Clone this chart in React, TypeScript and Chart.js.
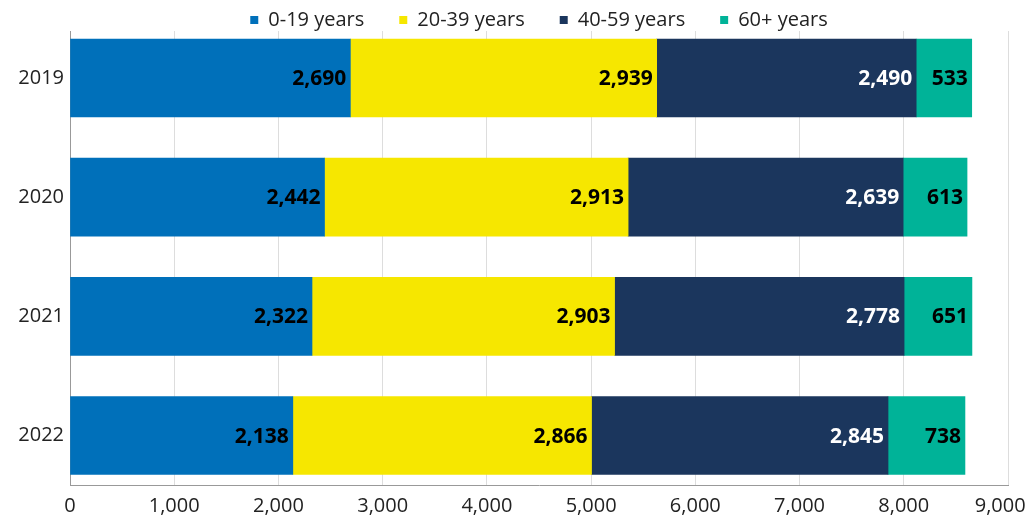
import React, { useEffect, useRef } from "react";
import { Chart, registerables } from "chart.js";

Chart.register(...registerables);

const years = ["2019", "2020", "2021", "2022"];
const seriesNames = ["0-19 years", "20-39 years", "40-59 years", "60+ years"];
const age0to19 = [2690, 2442, 2322, 2138];
const age20to39 = [2939, 2913, 2903, 2866];
const age40to59 = [2490, 2639, 2778, 2845];
const age60plus = [533, 613, 651, 738];
const seriesColors = ["#0070BA", "#F6E700", "#1B365D", "#00B398"];
const labelColors = ["#000000", "#000000", "#FFFFFF", "#000000"];
const xTicks = [0, 1000, 2000, 3000, 4000, 5000, 6000, 7000, 8000, 9000];

const FONT = "'Open Sans', sans-serif";

const valueLabels = {
  id: "valueLabels",
  afterDatasetsDraw(chart: any) {
    const ctx = chart.ctx;
    ctx.save();
    ctx.font = `bold 21px ${FONT}`;
    ctx.textAlign = "right";
    ctx.textBaseline = "middle";
    chart.data.datasets.forEach((ds: any, di: number) => {
      const meta = chart.getDatasetMeta(di);
      meta.data.forEach((el: any, i: number) => {
        const v = ds.data[i].x;
        ctx.fillStyle = labelColors[di];
        ctx.fillText(v.toLocaleString("en-US"), el.x - 4, el.y + 1);
      });
    });
    ctx.restore();
  },
};

export default function App() {
  const ref = useRef<HTMLCanvasElement>(null);
  useEffect(() => {
    const allSeries = [age0to19, age20to39, age40to59, age60plus];
    const lastTick = xTicks[xTicks.length - 1];
    const chart = new Chart(ref.current!, {
      type: "bar",
      data: {
        datasets: allSeries.map((vals, si) => ({
          label: seriesNames[si],
          data: vals.map((v, i) => ({ x: v, y: i })),
          backgroundColor: seriesColors[si],
          borderWidth: 0,
          barThickness: 78,
        })),
      },
      options: {
        indexAxis: "y",
        animation: false,
        responsive: false,
        maintainAspectRatio: false,
        layout: { padding: { left: 0, right: 21, top: -25, bottom: 1 } },
        plugins: {
          legend: {
            position: "top",
            fullSize: false,
            maxHeight: 56,
            labels: {
              usePointStyle: true,
              pointStyle: "rect",
              boxWidth: 8,
              boxHeight: 8,
              padding: 35,
              color: "#222",
              font: { family: FONT, size: 20 },
            },
          },
          tooltip: { enabled: false },
        },
        scales: {
          x: {
            type: "linear",
            stacked: true,
            min: 0,
            max: 9000,
            afterBuildTicks: (scale: any) => {
              scale.ticks = xTicks.map((v) => ({ value: v }));
            },
            afterFit: (scale: any) => {
              scale.paddingRight = 0;
              scale.paddingLeft = 0;
              scale.height = 32;
            },
            ticks: {
              color: "#222",
              font: { family: FONT, size: 20 },
              padding: 9,
              callback: (v: any) => {
                const s = Number(v).toLocaleString("en-US");
                return Number(v) === lastTick ? s + "   " : s;
              },
            },
            grid: { color: "#DDDDDD", drawTicks: false },
            border: { color: "#999999" },
          },
          y: {
            type: "linear",
            stacked: true,
            reverse: true,
            offset: false,
            min: -0.394,
            max: 3.415,
            afterBuildTicks: (scale: any) => {
              scale.ticks = years.map((_, i) => ({ value: i }));
            },
            afterFit: (scale: any) => {
              scale.width = 70;
            },
            ticks: {
              color: "#222",
              font: { family: FONT, size: 20 },
              padding: 6,
              callback: (v: any) => years[Math.round(Number(v))] ?? "",
            },
            grid: { display: false, drawTicks: false, offset: false },
            border: { color: "#999999" },
          },
        },
      },
      plugins: [valueLabels],
    } as any);
    return () => chart.destroy();
  }, []);
  return (
    <div style={{ position: "absolute", left: 0, top: 0, width: 1029, height: 518 }}>
      <canvas ref={ref} width={1029} height={518} style={{ width: 1029, height: 518 }} />
    </div>
  );
}
